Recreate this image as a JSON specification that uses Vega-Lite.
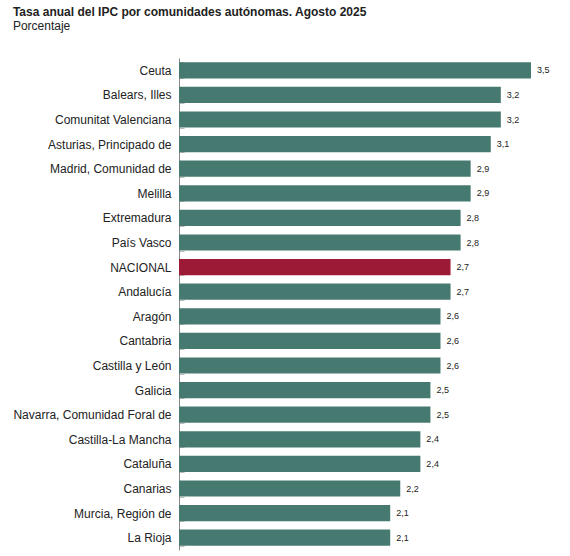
{
  "$schema": "https://vega.github.io/schema/vega-lite/v6.json",
  "width": 352,
  "height": 492,
  "padding": {"left": 12, "top": 6, "right": 5, "bottom": 6},
  "title": {
    "text": "Tasa anual del IPC por comunidades autónomas. Agosto 2025",
    "subtitle": "Porcentaje",
    "anchor": "start",
    "frame": "bounds",
    "font": "Liberation Sans",
    "fontSize": 12,
    "fontWeight": "bold",
    "color": "#222222",
    "subtitleFont": "Liberation Sans",
    "subtitleFontSize": 12,
    "subtitleColor": "#222222",
    "subtitlePadding": 2,
    "offset": 19
  },
  "data": {
    "values": [
      {"region": "Ceuta", "tasa": 3.5},
      {"region": "Balears, Illes", "tasa": 3.2},
      {"region": "Comunitat Valenciana", "tasa": 3.2},
      {"region": "Asturias, Principado de", "tasa": 3.1},
      {"region": "Madrid, Comunidad de", "tasa": 2.9},
      {"region": "Melilla", "tasa": 2.9},
      {"region": "Extremadura", "tasa": 2.8},
      {"region": "País Vasco", "tasa": 2.8},
      {"region": "NACIONAL", "tasa": 2.7},
      {"region": "Andalucía", "tasa": 2.7},
      {"region": "Aragón", "tasa": 2.6},
      {"region": "Cantabria", "tasa": 2.6},
      {"region": "Castilla y León", "tasa": 2.6},
      {"region": "Galicia", "tasa": 2.5},
      {"region": "Navarra, Comunidad Foral de", "tasa": 2.5},
      {"region": "Castilla-La Mancha", "tasa": 2.4},
      {"region": "Cataluña", "tasa": 2.4},
      {"region": "Canarias", "tasa": 2.2},
      {"region": "Murcia, Región de", "tasa": 2.1},
      {"region": "La Rioja", "tasa": 2.1}
    ]
  },
  "encoding": {
    "y": {
      "field": "region",
      "type": "nominal",
      "sort": null,
      "scale": {"paddingInner": 0.34, "paddingOuter": 0.17},
      "axis": {
        "title": null,
        "domainColor": "#888888",
        "tickColor": "#bbbbbb",
        "tickBand": "extent",
        "tickSize": -5,
        "labelPadding": 13,
        "labelFont": "Liberation Sans",
        "labelFontSize": 12,
        "labelColor": "#222222"
      }
    },
    "x": {
      "field": "tasa",
      "type": "quantitative",
      "scale": {"domain": [0, 3.5], "nice": false},
      "axis": null
    }
  },
  "layer": [
    {
      "mark": {"type": "bar"},
      "encoding": {
        "color": {
          "condition": {"test": "datum.region === 'NACIONAL'", "value": "#9c1a36"},
          "value": "#467a70"
        }
      }
    },
    {
      "mark": {"type": "text", "align": "left", "dx": 6, "font": "Liberation Sans", "fontSize": 9, "color": "#222222"},
      "encoding": {
        "text": {"field": "tasa", "type": "quantitative", "format": ".1f"}
      }
    }
  ],
  "config": {
    "view": {"stroke": null},
    "locale": {"number": {"decimal": ",", "thousands": ".", "grouping": [3], "currency": ["", " €"]}}
  }
}
